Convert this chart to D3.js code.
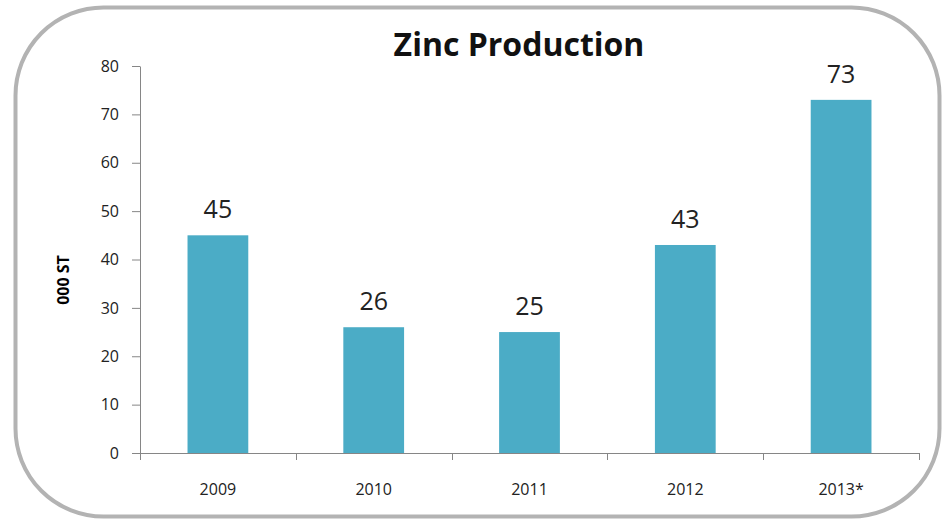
<!DOCTYPE html>
<html>
<head>
<meta charset="utf-8">
<script src="https://cdn.jsdelivr.net/npm/d3@7"></script>
<style>
  body { margin: 0; background: #fff; }
  text { font-family: "Open Sans", "DejaVu Sans", sans-serif; }
</style>
</head>
<body>
<div id="chart"></div>
<script>
var years = ['2009', '2010', '2011', '2012', '2013*'];
var production = [45, 26, 25, 43, 73];
var yTicks = [0, 10, 20, 30, 40, 50, 60, 70, 80];

var width = 944, height = 522;
var plot = { left: 140, right: 919, top: 66, bottom: 453 };

var svg = d3.select('#chart').append('svg')
  .attr('width', width)
  .attr('height', height);

// rounded frame
svg.append('rect')
  .attr('x', 15.5).attr('y', 7.5)
  .attr('width', 924).attr('height', 509)
  .attr('rx', 88).attr('ry', 88)
  .attr('fill', '#fff')
  .attr('stroke', '#b3b3b3')
  .attr('stroke-width', 4);

// title
svg.append('text')
  .attr('x', 519).attr('y', 56)
  .attr('text-anchor', 'middle')
  .attr('font-size', 32)
  .attr('font-weight', 'bold')
  .attr('fill', '#111')
  .text('Zinc Production');

var x = d3.scaleBand()
  .domain(years)
  .range([plot.left, plot.right])
  .paddingInner(0.61)
  .paddingOuter(0.305);

var y = d3.scaleLinear()
  .domain([0, 80])
  .range([plot.bottom, plot.top]);

// y axis
var yAxis = svg.append('g')
  .attr('transform', 'translate(' + plot.left + ',0)')
  .call(d3.axisLeft(y).tickValues(yTicks).tickSize(8).tickPadding(13).tickSizeOuter(0));
yAxis.select('.domain').attr('stroke', '#868686');
yAxis.selectAll('.tick line').attr('stroke', '#868686');
yAxis.selectAll('.tick text')
  .attr('font-size', 16)
  .attr('fill', '#222');

// y axis title
svg.append('text')
  .attr('transform', 'translate(69,280) rotate(-90)')
  .attr('text-anchor', 'middle')
  .attr('font-size', 16)
  .attr('font-weight', 'bold')
  .attr('fill', '#000')
  .text('000 ST');

// bars
svg.append('g').selectAll('rect')
  .data(production)
  .enter().append('rect')
  .attr('x', function(d, i){ return x(years[i]); })
  .attr('y', function(d){ return y(d); })
  .attr('width', x.bandwidth())
  .attr('height', function(d){ return y(0) - y(d); })
  .attr('fill', '#4bacc6');

// value labels
svg.append('g').selectAll('text')
  .data(production)
  .enter().append('text')
  .attr('x', function(d, i){ return x(years[i]) + x.bandwidth()/2; })
  .attr('y', function(d){ return y(d) - 17; })
  .attr('text-anchor', 'middle')
  .attr('font-size', 25)
  .attr('fill', '#222')
  .text(function(d){ return d; });

// x axis
var xTickPos = d3.range(years.length + 1).map(function(i){ return plot.left + i * x.step(); });
var xAxis = svg.append('g');
xAxis.append('line')
  .attr('x1', plot.left).attr('x2', plot.right)
  .attr('y1', plot.bottom + 0.5).attr('y2', plot.bottom + 0.5)
  .attr('stroke', '#868686');
xAxis.selectAll('line.tick')
  .data(xTickPos)
  .enter().append('line')
  .attr('class', 'tick')
  .attr('x1', function(d){ return Math.round(d) + 0.5; })
  .attr('x2', function(d){ return Math.round(d) + 0.5; })
  .attr('y1', plot.bottom).attr('y2', plot.bottom + 7)
  .attr('stroke', '#868686');
xAxis.selectAll('text')
  .data(years)
  .enter().append('text')
  .attr('x', function(d){ return x(d) + x.bandwidth()/2; })
  .attr('y', 495)
  .attr('text-anchor', 'middle')
  .attr('font-size', 16)
  .attr('fill', '#222')
  .text(function(d){ return d; });
</script>
</body>
</html>
